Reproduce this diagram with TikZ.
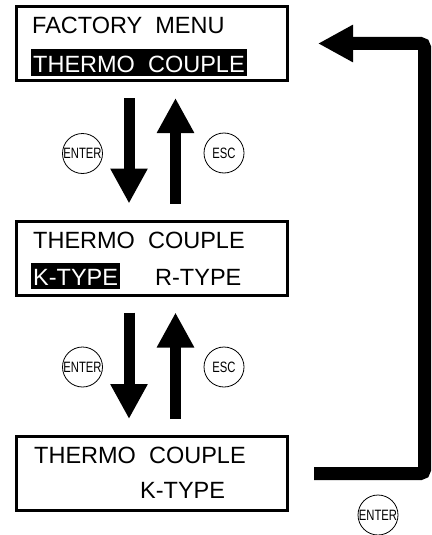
\documentclass[tikz,border=0pt]{standalone}
\usepackage{fontspec}
\setmainfont{Liberation Sans}
\newfontfamily\keyfont[FakeStretch=0.75]{Liberation Sans}
\usepackage{tikz}
\usetikzlibrary{arrows.meta}

\begin{document}
\begin{tikzpicture}[x=1pt,y=-1pt,
  lcd/.style={draw, line width=3pt, minimum width=271pt, minimum height=74pt, inner sep=0pt},
  txt/.style={font=\fontsize{23.5}{27}\selectfont, inner sep=0pt, anchor=base west},
  sel/.style={txt, fill=black, text=white, inner xsep=2pt, text height=22.5pt, text depth=3.5pt},
  button/.style={circle, draw, line width=0.8pt, minimum size=40pt, inner sep=0pt, font=\keyfont\fontsize{15}{15}\selectfont},
  flow/.style={line width=11pt, -{Triangle[length=35pt,width=35pt]}, shorten <=16pt, shorten >=16pt}]
\useasboundingbox (0,0) rectangle (431,535);

\node[lcd] (menu) at (152,43.5) {};
\node[lcd] (typesel) at (152,258) {};
\node[lcd] (typeset) at (152,473.5) {};

\node[txt] (menutitle) at (32,34) {FACTORY\ \ MENU};
\node[sel] (menuitem) at (31,72) {THERMO\ \ COUPLE};
\node[txt] (seltitle) at (33,248) {THERMO\ \ COUPLE};
\node[sel] (selk) at (31,285) {K-TYPE};
\node[txt] (selr) at (155,285) {R-TYPE};
\node[txt] (settitle) at (34,463) {THERMO\ \ COUPLE};
\node[txt] (setk) at (140,498) {K-TYPE};

\draw[flow] ([xshift=-23pt]menu.south) -- ([xshift=-23pt]typesel.north);
\draw[flow] ([xshift=23.5pt]typesel.north) -- ([xshift=23.5pt]menu.south);
\draw[flow] ([xshift=-23pt]typesel.south) -- ([xshift=-23pt]typeset.north);
\draw[flow] ([xshift=23.5pt]typeset.north) -- ([xshift=23.5pt]typesel.south);

\node[button] (enter1) at (82.5,153.5) {ENTER};
\node[button] (esc1) at (224,153) {ESC};
\node[button] (enter2) at (82.5,367) {ENTER};
\node[button] (esc2) at (224,367) {ESC};
\node[button] (enter3) at (378,515) {ENTER};

\coordinate (bend) at (424.5,43.5);
\draw[line width=13pt, -{Triangle[length=35pt,width=35pt]}, rounded corners=4pt, shorten <=25pt, shorten >=29pt] (typeset.east) -| (bend) -- (menu.east);
\end{tikzpicture}
\end{document}
